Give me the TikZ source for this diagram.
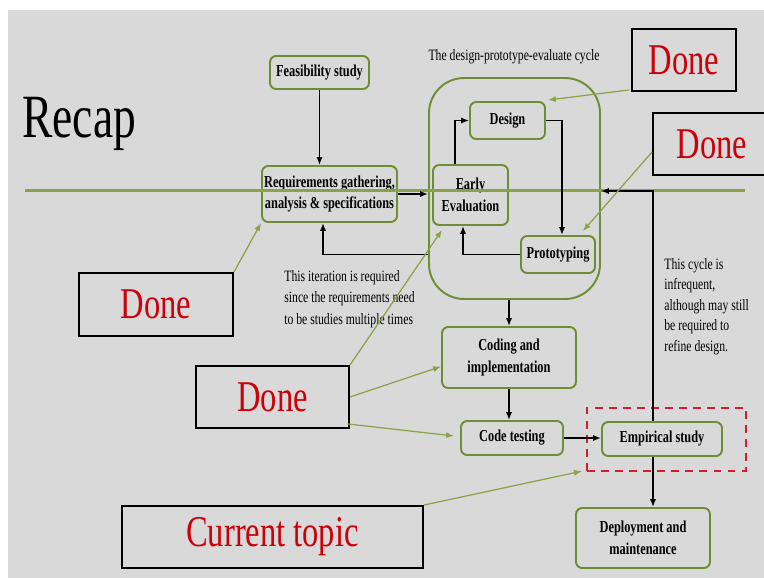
\documentclass[tikz,border=0pt]{standalone}
\usepackage{fontspec}
\setmainfont{Liberation Serif}[FakeStretch=0.74]
\usetikzlibrary{arrows.meta}
\definecolor{slide}{RGB}{217,217,217}
\definecolor{boxgreen}{RGB}{112,140,52}
\definecolor{linegreen}{RGB}{138,162,72}
\definecolor{donered}{RGB}{204,0,8}
\definecolor{dashred}{RGB}{212,28,52}

\begin{document}
\begin{tikzpicture}[x=0.02cm,y=-0.02cm,
  stage/.style={draw=boxgreen, line width=1.1pt, rounded corners=3.5pt, align=center, inner sep=1pt,
    font=\bfseries\fontsize{9.5}{12.5}\selectfont},
  tag/.style={draw=black, line width=1.1pt, text=donered, inner sep=0pt, font=\fontsize{25}{30}\selectfont},
  note/.style={anchor=north west, align=left, inner sep=0pt},
  flow/.style={draw, line width=0.8pt, -{Latex[length=4.5pt,width=3.5pt]}},
  hint/.style={draw=linegreen, line width=0.7pt, -{Latex[length=4.5pt,width=3.5pt]}}]
\useasboundingbox (0,0) rectangle (764,578);
\fill[white] (0,0) rectangle (764,578);
\fill[slide] (8,10) rectangle (764,578);

\node[anchor=base west, inner sep=0pt, font=\fontsize{35}{40}\selectfont] (0) at (22,137) {Recap};
\node[font=\fontsize{9}{11}\selectfont] (12) at (514,57) {The design-prototype-evaluate cycle};

% the stages
\node[draw=boxgreen, line width=1.1pt, rounded corners=0.7cm, minimum width=3.42cm, minimum height=4.42cm] (3) at (514.5,188.5) {};
\node[stage, minimum width=1.98cm, minimum height=0.66cm] (1) at (319.5,72.5) {Feasibility study};
\node[stage, minimum width=2.7cm, minimum height=1.12cm] (2) at (329.5,194) {Requirements gathering,\\analysis \& specifications};
\node[stage, minimum width=1.5cm, minimum height=0.74cm] (4) at (507.5,120.5) {Design};
\node[stage, minimum width=1.5cm, minimum height=1.2cm] (5) at (470.5,195) {Early\\Evaluation};
\node[stage, minimum width=1.48cm, minimum height=0.74cm] (6) at (558,254.5) {Prototyping};
\node[stage, minimum width=2.68cm, minimum height=1.22cm] (7) at (509,357.5) {Coding and\\implementation};
\node[stage, minimum width=2.04cm, minimum height=0.68cm] (8) at (512,438) {Code testing};
\node[stage, minimum width=2.4cm, minimum height=0.68cm] (9) at (662,439) {Empirical study};
\node[stage, minimum width=2.68cm, minimum height=1.2cm] (10) at (643,538) {Deployment and\\maintenance};
\node[draw=dashred, line width=1.3pt, dash pattern=on 4.5pt off 3.5pt, minimum width=3.18cm, minimum height=1.26cm] (11) at (666.5,439.5) {};

\node[note, font=\fontsize{9}{12.2}\selectfont] (13) at (284,270) {This iteration is required\\since the requirements need\\to be studies multiple times};
\node[note, font=\fontsize{9}{11.7}\selectfont] (14) at (664,258) {This cycle is\\infrequent,\\although may still\\be required to\\refine design.};

% the labels
\node[tag, minimum width=3.08cm, minimum height=1.26cm] (d1) at (156,304.5) {Done};
\node[tag, minimum width=3.06cm, minimum height=1.24cm] (d2) at (272.5,397) {Done};
\node[tag, minimum width=2.08cm, minimum height=1.24cm] (d3) at (684,60) {Done};
\node[tag, minimum width=2.36cm, minimum height=1.24cm] (d4) at (712,144) {Done};
\node[tag, minimum width=6.02cm, minimum height=1.24cm] (ct) at (272.5,537) {Current topic};

\coordinate (l1) at (25,190.5);
\coordinate (l2) at (745,190.5);
\path[draw=linegreen, line width=1.2pt] (l1) -- (l2);

\path[flow] (1) -- (1 |- 2.north);
\path[flow] (2.east) -- (2.east -| 3.west);
\path[flow] ([xshift=-0.31cm]5.north) |- (4.west);
\path[flow] (4.east) -| ([xshift=0.08cm]6.north);
\path[flow] (6.west) -| ([xshift=-0.15cm]5.south);
\path[flow] (3.west |- 6.west) -| ([xshift=-0.13cm]2.south);
\path[flow] (7.north |- 3.south) -- (7.north);
\path[flow] (7.south) -- (7.south |- 8.north);
\path[flow] (8.east) -- (8.east -| 9.west);
\coordinate (r) at (653,191);
\path[flow] (r |- 9.north) -- (r) -- (r -| 3.east);
\path[flow] (r |- 9.south) -- (r |- 10.north);

\path[hint] (d1.north east) -- (2.south west);
\path[hint] (d2.north east) -- ([shift={(10,4)}]5.south west);
\path[hint] (d2.east) -- ([shift={(0,9)}]7.west);
\path[hint] ([shift={(-2,-5)}]d2.south east) -- ([shift={(-6,-2)}]8.west);
\path[hint] (ct.north east) -- ([shift={(-4,-1)}]11.south west);
\path[hint] ([shift={(-2,-2)}]d3.south west) -- ([shift={(2,-1)}]4.north east);
\path[hint] ([shift={(0,8)}]d4.west) -- ([shift={(-13,-4)}]6.north east);
\end{tikzpicture}
\end{document}
